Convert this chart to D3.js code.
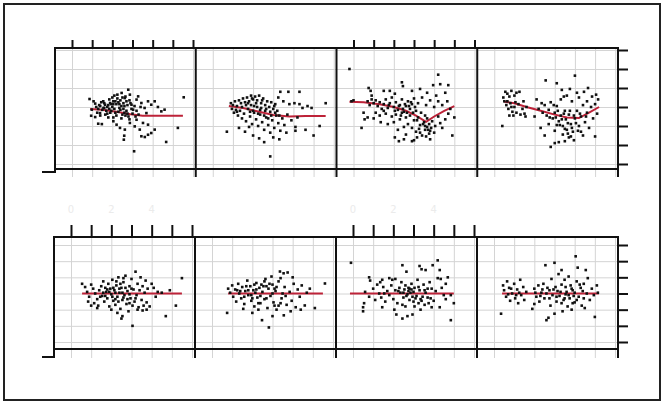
<!DOCTYPE html>
<html>
<head>
<meta charset="utf-8">
<script src="https://cdn.jsdelivr.net/npm/d3@7"></script>
<style>
  body { margin: 0; background: #fff; }
  svg { display: block; }
  .grid line { stroke: #d4d4d4; stroke-width: 1; }
  .grid path { display: none; }
  .tick-axis line { stroke: #111; stroke-width: 2; }
  .tick-axis path { display: none; }
  .frame { stroke: #111; stroke-width: 2; fill: none; }
  .faint text { fill: #ebebeb; font: 10px "DejaVu Sans", sans-serif; }
</style>
</head>
<body>
<div id="chart"></div>
<script>
// ---- DATA (x in tick units 0..6, y in tick units -3..3) ----
const xTicks = [0, 1, 2, 3, 4, 5, 6];
const yTicks = [-3, -2, -1, 0, 1, 2, 3];
const faintTicks = [0, 2, 4];
const faintLabels = ['0', '2', '4'];

const p1Top = [[0.87,0.42],[1.07,0.3],[1.15,0.18],[0.98,-0.14],[0.95,-0.46],[1.15,-0.53],[1.3,-0.88],[1.48,-0.9],[1.39,-0.32],[1.56,-0.05],[1.64,0.12],[1.89,0.21],[2.05,0.3],[2.25,0.65],[2.46,0.74],[2.62,0.47],[2.79,0.91],[2.87,0.65],[2.7,0.3],[2.95,0.12],[3.03,-0.14],[3.2,0.39],[3.28,0.56],[3.44,0.21],[3.6,-0.05],[3.69,-0.32],[3.77,0.3],[3.93,0.12],[4.1,0.3],[4.26,0],[4.43,-0.23],[4.59,-0.14],[5.54,0.51],[5.25,-1.1],[4.67,-1.84],[4.1,-1.19],[3.93,-1.37],[3.77,-1.46],[3.61,-1.58],[3.44,-1.54],[3.36,-1.19],[3.11,-1.02],[3.08,-2.33],[2.57,-1.72],[2.59,-1.51],[2.62,-1.19],[2.38,-1.1],[2.21,-0.93],[2.05,-0.75],[2.87,-0.84],[3.2,-0.67],[3.52,-0.84],[3.77,-0.93],[1.2,0.0],[1.3,-0.1],[1.4,0.05],[1.5,-0.15],[1.6,0.2],[1.7,-0.2],[1.8,0.1],[1.9,-0.3],[2.0,0.0],[2.1,-0.1],[2.2,0.15],[2.3,-0.25],[2.4,0.35],[2.5,-0.4],[2.6,0.05],[2.7,-0.2],[2.8,-0.5],[2.9,0.2],[3.0,-0.35],[1.25,-0.3],[1.45,0.25],[1.65,-0.4],[1.85,0.4],[2.05,-0.55],[2.25,0.45],[2.45,-0.6],[2.65,0.55],[2.85,-0.65],[2.35,-0.05],[2.55,0.2],[2.15,0.3],[1.95,0.15],[1.75,0.0],[2.75,0.1],[3.1,0.05],[3.2,-0.2],[3.3,-0.4],[3.4,0.0],[2.6,-0.3],[2.4,-0.15],[2.2,-0.45],[2.0,0.5],[1.8,-0.55],[1.35,0.1],[1.55,0.3],[1.75,-0.35],[1.95,-0.2],[2.15,-0.3],[2.35,0.15],[2.55,-0.1],[2.75,-0.35],[2.95,-0.1],[2.05,0.15],[2.45,0.05],[1.85,-0.1],[2.65,-0.45],[2.3,0.25],[1.6,-0.05],[2.85,0.35],[3.15,-0.5],[2.5,0.5],[2.1,0.6],[1.4,-0.45]];
const p2Top = [[0.7,-1.3],[1.3,-1.1],[2.55,-1.85],[3.0,-1.6],[3.3,-1.7],[3.65,-1.35],[4.1,-1.25],[4.1,-1.05],[4.6,-1.2],[5.0,-1.5],[5.3,-1.0],[5.6,0.2],[4.7,0.05],[4.3,0.8],[3.75,0.8],[3.35,0.8],[3.25,0.5],[3.5,0.3],[3.8,0.15],[4.05,0.2],[4.3,0.15],[4.45,-0.05],[4.9,-0.05],[2.85,-2.6],[0.9,0.2],[1.0,0.1],[1.1,0.3],[1.2,0.05],[1.3,0.35],[1.4,0.2],[1.5,0.45],[1.6,0.25],[1.7,0.5],[1.8,0.3],[1.9,0.6],[2.0,0.4],[2.1,0.55],[2.2,0.35],[2.3,0.6],[2.4,0.2],[2.5,0.45],[2.6,0.1],[2.7,0.3],[2.8,0.0],[2.9,0.25],[3.0,-0.1],[3.1,0.15],[3.2,-0.2],[0.95,-0.1],[1.05,-0.3],[1.15,-0.15],[1.25,-0.45],[1.35,-0.2],[1.45,-0.6],[1.55,-0.35],[1.65,-0.75],[1.75,-0.1],[1.85,-0.5],[1.95,-0.9],[2.05,-0.3],[2.15,-0.65],[2.25,-1.0],[2.35,-0.4],[2.45,-0.8],[2.55,-1.2],[2.65,-0.55],[2.75,-0.95],[2.85,-1.35],[2.95,-0.7],[3.05,-1.1],[3.15,-0.45],[3.25,-0.85],[3.35,-1.25],[3.45,-0.6],[3.55,-0.95],[3.7,-0.4],[3.9,-0.7],[4.2,-0.55],[1.6,-1.3],[2.0,-1.5],[2.3,-1.65],[1.8,-1.05],[3.1,-0.3],[2.6,-0.2],[2.2,0.0],[1.9,0.1],[2.4,-0.05],[2.9,-0.45],[1.45,0.0],[1.65,0.1],[1.85,-0.25],[2.05,0.05],[2.25,-0.35],[2.45,0.35],[2.65,-0.1],[2.85,-0.25],[3.05,0.05],[1.75,0.2],[2.15,0.2],[2.55,-0.45],[2.35,-0.15],[1.95,0.45],[2.75,-0.6],[3.3,-0.45],[1.2,-0.25],[2.0,-0.2]];
const p3Top = [[-0.2,2.0],[2.4,1.3],[2.45,1.1],[2.9,0.85],[3.3,0.95],[3.65,0.75],[3.95,1.15],[4.2,1.7],[4.3,1.2],[4.55,0.75],[4.7,1.15],[0.75,1.0],[0.85,0.85],[0.9,0.6],[1.5,0.85],[1.8,0.85],[2.05,0.7],[0.5,-0.3],[0.4,-1.1],[0.55,-0.65],[0.7,-0.55],[1.0,-0.6],[1.35,-0.8],[2.0,-0.8],[2.05,-1.6],[2.25,-1.8],[2.5,-1.7],[2.9,-1.8],[3.15,-1.6],[3.3,-1.35],[3.55,-1.2],[3.8,-1.25],[4.05,-1.0],[4.3,-0.85],[4.55,-0.65],[4.9,-1.5],[5.0,-0.55],[4.8,-0.1],[4.65,0.3],[4.2,0.3],[0.0,0.35],[-0.1,0.3],[0.7,0.3],[0.8,0.1],[0.9,0.4],[1.0,0.2],[1.1,0.35],[1.2,0.05],[1.3,0.25],[1.4,-0.1],[1.5,0.15],[1.6,0.4],[1.7,-0.05],[1.8,0.2],[1.9,0.5],[2.0,0.0],[2.1,0.25],[2.2,-0.15],[2.3,0.1],[2.4,0.4],[2.5,-0.25],[2.6,0.05],[2.7,0.3],[2.8,-0.1],[2.9,0.15],[3.0,0.45],[3.1,-0.2],[3.2,0.2],[3.4,0.5],[3.6,0.1],[3.8,0.35],[4.0,0.0],[4.4,0.1],[4.1,0.6],[1.1,-0.3],[1.3,-0.45],[1.6,-0.35],[1.9,-0.5],[2.1,-0.4],[2.3,-0.65],[2.4,-0.3],[2.6,-0.55],[2.7,-0.9],[2.8,-0.45],[2.9,-1.1],[3.0,-0.7],[3.1,-1.3],[3.2,-0.55],[3.3,-0.95],[3.4,-1.5],[3.5,-0.8],[3.55,-1.0],[3.6,-1.55],[3.65,-0.6],[3.7,-1.2],[3.75,-0.9],[3.8,-1.7],[3.9,-0.75],[4.0,-1.35],[4.2,-0.5],[4.4,-1.1],[4.7,-0.35],[2.2,-1.2],[2.6,-1.45],[3.0,-1.75],[1.7,-0.9],[2.5,-1.05],[2.05,-0.2],[2.25,0.05],[2.45,-0.1],[2.55,0.15],[2.65,-0.3],[2.75,0.05],[2.85,0.25],[2.95,-0.3],[3.05,0.0],[3.15,-0.7],[3.35,-0.3],[3.45,-0.9],[3.55,-0.45],[3.65,-1.05],[3.75,-1.4],[3.85,-1.1],[1.5,-0.2],[1.75,0.1],[2.35,-0.45],[3.25,-1.15]];
const p4Top = [[0.4,-1.0],[0.45,0.5],[0.55,0.8],[0.65,0.7],[0.75,0.55],[0.85,0.85],[1.0,0.6],[1.1,0.75],[1.25,0.8],[0.5,0.3],[0.6,0.1],[0.7,-0.1],[0.8,0.2],[0.9,-0.25],[1.0,0.0],[1.1,-0.3],[1.2,0.15],[1.3,-0.4],[1.4,-0.1],[1.5,-0.35],[1.6,0.0],[0.75,-0.45],[0.95,-0.45],[1.45,0.3],[1.55,-0.5],[4.0,1.65],[2.55,1.4],[3.1,1.25],[3.35,0.9],[3.45,0.55],[3.75,0.95],[4.1,0.75],[4.45,0.8],[4.65,1.0],[4.85,0.55],[5.05,0.65],[5.15,0.4],[4.6,0.3],[5.0,-1.55],[4.4,-1.5],[2.8,-2.1],[3.0,-1.9],[3.2,-1.85],[3.5,-1.8],[3.8,-1.55],[2.3,-1.1],[2.0,-0.5],[2.1,0.4],[2.35,0.2],[2.2,-0.1],[2.4,-0.3],[2.5,0.1],[2.6,-0.45],[2.7,-0.15],[2.8,0.25],[2.9,-0.6],[3.0,-0.3],[3.1,0.05],[3.2,-0.75],[3.3,-0.45],[3.4,-1.0],[3.5,-0.2],[3.55,-0.65],[3.6,-1.2],[3.7,-0.4],[3.8,-0.9],[3.85,0.3],[3.9,-1.3],[4.0,-0.6],[4.1,-0.2],[4.2,-1.0],[4.3,-0.5],[4.4,0.1],[4.5,-0.8],[4.6,-0.3],[4.7,-1.1],[4.8,0.0],[4.9,-0.6],[5.0,0.15],[5.1,-0.35],[3.3,0.4],[3.6,0.6],[4.2,0.5],[2.7,-0.9],[3.0,-1.25],[3.4,-1.45],[3.7,-1.6],[3.95,-1.75],[2.5,-1.5],[4.3,-1.3],[3.1,-0.95],[0.65,0.3],[0.85,0.0],[1.05,0.25],[3.05,-0.55],[3.15,-0.2],[3.25,-0.95],[3.35,-0.65],[3.45,-0.35],[3.5,-1.15],[3.65,-0.85],[3.75,-0.2],[3.85,-1.1],[3.95,-0.45],[4.05,-0.85],[4.15,-1.25],[4.25,-0.35],[3.65,-1.4],[2.75,-0.55],[2.95,0.1],[4.55,-0.5]];

const p1Bottom = [[0.55,0.6],[0.7,0.4],[0.8,0.1],[0.9,-0.2],[0.85,-0.5],[1.0,0.55],[1.1,0.3],[1.15,-0.6],[1.2,0.0],[1.3,-0.35],[1.35,-0.75],[1.4,0.2],[1.5,0.45],[1.55,-0.15],[1.6,0.75],[1.65,-0.5],[1.75,0.1],[1.8,-0.3],[1.85,0.6],[1.9,-0.8],[1.95,0.3],[2.0,-0.05],[2.05,0.85],[2.1,-0.45],[2.15,0.2],[2.2,-0.7],[2.25,0.5],[2.3,-0.2],[2.35,1.0],[2.4,0.05],[2.45,-0.95],[2.5,0.35],[2.55,-0.4],[2.6,0.7],[2.65,-0.1],[2.7,1.1],[2.75,-0.65],[2.8,0.15],[2.85,-1.1],[2.9,0.45],[2.95,-0.3],[3.0,0.9],[3.05,-0.75],[3.1,0.25],[3.15,-0.5],[3.2,1.35],[3.25,-0.1],[3.3,0.6],[3.35,-0.85],[3.4,0.2],[3.45,1.0],[3.5,-0.4],[3.55,0.45],[3.6,-0.75],[3.65,0.05],[3.7,0.8],[3.75,-0.55],[3.8,0.3],[3.9,-0.8],[4.0,0.6],[4.1,0.35],[4.2,-0.2],[4.3,0.1],[4.5,0.05],[4.9,0.2],[5.5,0.95],[5.2,-0.75],[4.7,-1.4],[3.05,-2.0],[2.5,-1.55],[2.55,-1.4],[2.3,-1.2],[2.0,-1.0],[3.3,-1.0],[3.55,-1.05],[3.75,-1.0],[1.0,-0.75],[1.3,-0.9],[1.7,0.35],[2.45,0.6],[2.9,-0.05],[2.2,0.05],[1.6,0.05],[1.45,-0.2],[1.7,-0.15],[1.9,0.1],[2.1,0.35],[2.2,-0.35],[2.4,0.3],[2.6,-0.25],[2.7,0.35],[2.8,-0.35],[3.0,0.3],[3.2,-0.3],[2.35,-0.5],[2.55,0.05],[2.05,-0.2],[1.8,0.25],[2.9,-0.6],[2.6,0.95],[2.25,0.75]];
const p2Bottom = [[0.75,-1.2],[0.8,0.3],[0.9,0.05],[1.0,0.5],[1.05,-0.2],[1.15,0.25],[1.2,-0.5],[1.3,0.6],[1.35,0.0],[1.45,-0.3],[1.5,0.4],[1.6,-0.65],[1.65,0.15],[1.75,0.8],[1.8,-0.1],[1.9,0.45],[1.95,-0.45],[2.05,0.2],[2.1,-0.8],[2.2,0.65],[2.25,-0.25],[2.35,0.35],[2.4,-0.6],[2.48,-1.65],[2.5,0.1],[2.6,-0.35],[2.65,0.9],[2.75,-0.9],[2.8,0.3],[2.82,-2.1],[2.9,-0.15],[3.0,0.55],[3.05,-0.55],[3.15,0.15],[3.2,-1.0],[3.3,0.75],[3.37,1.36],[3.45,-0.3],[3.55,1.25],[3.56,-1.35],[3.6,0.4],[3.7,-0.7],[3.75,1.3],[3.85,0.1],[3.95,-0.45],[4.05,0.6],[4.15,-0.85],[4.25,0.25],[4.35,-0.2],[4.45,0.5],[4.6,-0.74],[4.7,0.05],[4.85,0.3],[5.1,-0.9],[5.6,0.62],[4.0,1.0],[3.4,0.95],[2.95,1.05],[1.55,-0.95],[2.0,-1.2],[2.3,-1.0],[3.0,-1.4],[3.3,-0.75],[3.9,-1.1],[4.4,-1.0],[2.7,0.45],[2.15,0.05],[3.5,0.0],[1.25,0.2],[3.1,0.3],[2.45,0.55],[3.65,-0.15],[1.4,0.15],[1.6,-0.2],[1.8,0.2],[2.0,-0.3],[2.2,0.25],[2.4,-0.15],[2.55,0.45],[2.7,-0.3],[2.85,0.6],[3.0,0.0],[3.2,0.4],[3.4,-0.6],[1.7,0.45],[2.3,-0.6],[2.6,0.75],[3.1,-0.75],[2.1,0.55],[1.95,-0.1]];
const p3Bottom = [[-0.1,1.9],[2.45,1.75],[2.65,1.35],[3.3,1.7],[3.4,1.5],[3.6,1.45],[3.95,1.75],[4.2,2.05],[4.3,1.45],[4.7,1.0],[4.35,0.9],[0.8,1.0],[0.85,0.8],[1.45,0.85],[1.8,0.95],[1.95,0.85],[2.1,0.9],[0.55,-0.6],[0.5,-0.85],[0.5,-1.1],[1.45,-0.85],[2.15,-1.3],[2.45,-1.55],[2.7,-1.4],[2.95,-1.3],[2.45,-0.7],[2.6,-0.8],[3.25,-0.6],[3.55,-0.7],[3.9,-0.85],[4.3,-0.85],[4.6,-0.35],[4.85,-1.65],[5.0,-0.6],[4.85,-0.1],[0.6,0.1],[0.8,-0.2],[1.0,0.3],[1.1,-0.4],[1.2,0.55],[1.3,0.0],[1.4,-0.25],[1.5,0.4],[1.6,-0.5],[1.7,0.15],[1.8,-0.1],[1.9,0.5],[2.0,-0.35],[2.1,0.2],[2.2,-0.6],[2.3,0.35],[2.35,0.05],[2.4,0.7],[2.5,-0.25],[2.55,0.25],[2.6,0.5],[2.7,-0.05],[2.75,0.35],[2.8,-0.4],[2.9,0.6],[3.0,0.1],[3.1,-0.3],[3.2,0.85],[3.3,0.2],[3.4,-0.45],[3.5,0.55],[3.6,0.05],[3.7,-0.25],[3.8,0.7],[3.9,0.3],[4.0,-0.45],[4.1,0.15],[4.2,0.95],[4.4,0.35],[4.5,-0.1],[4.6,0.6],[3.05,-0.8],[3.35,-1.0],[3.75,-0.6],[2.05,-1.0],[1.35,0.7],[2.65,-0.15],[2.75,0.15],[2.85,0.05],[2.95,-0.2],[2.8,0.3],[2.9,0.25],[3.05,0.35],[3.15,-0.15],[3.25,0.4],[3.45,-0.2],[3.55,0.2],[3.7,0.3],[2.5,0.05],[2.25,0.15],[1.55,0.0],[3.0,-0.5],[3.35,-0.35],[3.85,-0.3]];
const p4Bottom = [[0.35,-1.25],[0.45,0.5],[0.5,0.2],[0.6,-0.2],[0.65,0.75],[0.75,0.35],[0.8,-0.45],[0.9,0.0],[1.0,0.6],[1.05,-0.3],[1.15,0.25],[1.2,-0.6],[1.3,0.85],[1.35,-0.1],[1.45,0.4],[1.5,-0.4],[1.6,0.1],[0.7,-0.05],[1.25,0.05],[1.9,-0.95],[2.0,-0.65],[2.0,0.3],[2.1,-0.2],[2.2,0.5],[2.25,-0.5],[2.35,0.05],[2.45,0.6],[2.5,-0.3],[2.55,1.75],[2.6,-1.65],[2.7,-1.5],[2.75,0.2],[2.8,-0.75],[2.85,0.9],[2.9,-0.1],[3.0,1.9],[3.0,-1.25],[3.05,0.4],[3.1,-0.5],[3.2,1.2],[3.25,-0.15],[3.35,1.45],[3.35,0.55],[3.4,-1.1],[3.45,-0.4],[3.5,0.85],[3.6,0.1],[3.65,-0.8],[3.7,1.05],[3.75,-0.3],[3.8,0.5],[3.85,-1.0],[3.9,0.2],[4.0,-0.55],[4.05,2.3],[4.1,0.75],[4.15,1.6],[4.2,-0.2],[4.3,0.35],[4.35,-0.75],[4.45,0.6],[4.5,-0.9],[4.55,1.45],[4.6,0.0],[4.65,0.95],[4.75,-0.4],[4.85,0.3],[4.95,-0.1],[5.0,-1.45],[5.1,0.5],[5.15,0.05],[3.55,-0.05],[3.15,0.15],[2.65,0.35],[3.95,-0.15],[4.4,0.15],[2.05,0.05],[2.3,-0.15],[2.4,0.25],[2.6,0.0],[2.75,-0.3],[2.95,0.25],[3.1,-0.2],[3.3,0.1],[3.5,-0.3],[3.55,0.4],[3.7,-0.1],[3.85,0.3],[4.0,0.05],[4.1,-0.4],[4.25,0.55],[4.45,-0.3],[3.35,-0.6],[3.9,-0.6],[0.85,0.3],[1.1,-0.1]];

// smoothed (red) curves per panel
const fitTop = [
  [[0.9,-0.1],[1.5,-0.15],[2.2,-0.25],[2.9,-0.38],[3.5,-0.46],[4.5,-0.46],[5.5,-0.46]],
  [[0.8,0.05],[1.5,-0.05],[2.3,-0.25],[3.0,-0.42],[3.8,-0.5],[4.6,-0.47],[5.6,-0.47]],
  [[-0.2,0.28],[0.5,0.25],[1.3,0.15],[2.0,0.0],[2.6,-0.2],[3.1,-0.45],[3.6,-0.78],[4.0,-0.5],[4.5,-0.2],[5.0,0.05]],
  [[0.5,0.28],[1.0,0.2],[1.6,0.0],[2.3,-0.2],[3.0,-0.4],[3.6,-0.55],[4.2,-0.58],[4.7,-0.3],[5.2,0.0]]
];
const fitBottom = [
  [[0.55,0],[5.5,0]],
  [[0.8,0],[5.5,0]],
  [[-0.15,0],[5.0,0]],
  [[0.4,0],[5.2,0]]
];

const rows = [
  { panels: [p1Top, p2Top, p3Top, p4Top], fits: fitTop, left: 55, top: 48, bottom: 169, stubY: 172, extend: 177, yRange: [164, 50], tickLen: 8, labels: false },
  { panels: [p1Bottom, p2Bottom, p3Bottom, p4Bottom], fits: fitBottom, left: 54, top: 237, bottom: 349, stubY: 357, extend: 358, yRange: [342, 245], tickLen: 12, labels: true }
];

const W = 664, H = 404, RIGHT = 618;

const svg = d3.select('#chart').append('svg').attr('width', W).attr('height', H);

// outer border
svg.append('rect').attr('x', 4).attr('y', 4).attr('width', 656).attr('height', 396)
  .attr('fill', 'none').attr('stroke', '#222').attr('stroke-width', 2);

rows.forEach(row => {
  const band = d3.scaleBand().domain(d3.range(4)).range([row.left, RIGHT]);
  const y = d3.scaleLinear().domain([-3, 3]).range(row.yRange);
  const g = svg.append('g');

  row.panels.forEach((pts, i) => {
    const x0 = band(i), w = band.bandwidth();
    const x = d3.scaleLinear().domain([0, 6]).range([x0 + 17, x0 + 138]);

    // GRID
    g.append('g').attr('class', 'grid')
      .attr('transform', `translate(0,${row.top})`)
      .call(d3.axisBottom(x).tickValues(xTicks).tickSize(row.extend - row.top).tickFormat(''));
    g.append('g').attr('class', 'grid')
      .attr('transform', `translate(${x0},0)`)
      .call(d3.axisRight(y).tickValues(yTicks).tickSize(w).tickFormat(''));

    // SMOOTH LINE (under the points, like the reference)
    g.append('path')
      .datum(row.fits[i])
      .attr('fill', 'none')
      .attr('stroke', '#bd2238')
      .attr('stroke-width', 2)
      .attr('d', d3.line().x(d => x(d[0])).y(d => y(d[1])));

    // POINTS
    g.append('g').selectAll('rect')
      .data(pts)
      .enter()
      .append('rect')
      .attr('x', d => x(d[0]) - 1.3)
      .attr('y', d => y(d[1]) - 1.3)
      .attr('width', 2.6)
      .attr('height', 2.6)
      .attr('fill', '#111');

    // TOP TICKS (alternating panels)
    if (i % 2 === 0) {
      g.append('g').attr('class', 'tick-axis')
        .attr('transform', `translate(0,${row.top})`)
        .call(d3.axisTop(x).tickValues(xTicks).tickSize(row.tickLen).tickFormat(''));
      if (row.labels) {
        g.append('g').attr('class', 'faint').selectAll('text')
          .data(faintTicks)
          .enter()
          .append('text')
          .attr('x', d => x(d))
          .attr('y', row.top - 24)
          .attr('text-anchor', 'middle')
          .text((d, k) => faintLabels[k]);
      }
    }

    // RIGHT TICKS
    if (i === 3) {
      g.append('g').attr('class', 'tick-axis')
        .attr('transform', `translate(${RIGHT},0)`)
        .call(d3.axisRight(y).tickValues(yTicks).tickSize(10).tickFormat(''));
    }
  });

  // FRAME
  g.append('line').attr('class', 'frame')
    .attr('x1', row.left).attr('x2', RIGHT).attr('y1', row.top).attr('y2', row.top);
  g.append('line').attr('class', 'frame')
    .attr('x1', row.left).attr('x2', RIGHT).attr('y1', row.bottom).attr('y2', row.bottom);
  d3.range(5).forEach(k => {
    const xe = k < 4 ? band(k) : RIGHT;
    g.append('line').attr('class', 'frame')
      .attr('x1', xe).attr('x2', xe)
      .attr('y1', row.top - 1).attr('y2', k === 0 ? row.stubY + 1 : row.extend);
  });
  g.append('line').attr('class', 'frame')
    .attr('x1', 42).attr('x2', row.left).attr('y1', row.stubY).attr('y2', row.stubY);
});
</script>
</body>
</html>
